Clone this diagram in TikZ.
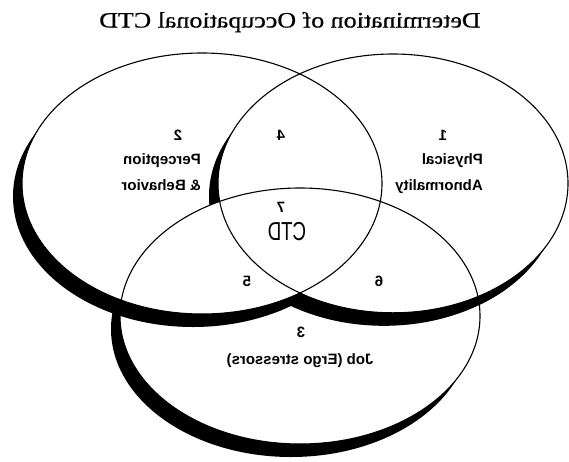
\documentclass[tikz,border=0pt]{standalone}
\usepackage{fontspec}
\setmainfont{Liberation Serif}
\setsansfont{Liberation Sans}
\newfontfamily\headfont[FakeStretch=1.18,FakeBold=0.6]{Liberation Serif}
\newfontfamily\ctdfont[FakeStretch=0.72]{Liberation Sans}
\begin{document}
% Three-way Venn diagram with drop shadows, drawn mirror-imaged (xscale=-1)
\begin{tikzpicture}[x=1pt,y=-1pt,xscale=-1,
  oval/.style n args={3}{insert path={#1 ellipse [x radius=#2, y radius=#3]}},
  perc/.style={oval={(367,183.5)}{180}{130.5}},
  phys/.style={oval={(176,183.4)}{175}{129.4}},
  job/.style={oval={(269,316)}{180}{128}},
  drop/.style={shift={(9,13)}},
  ring/.style={draw=black,line width=1.1pt},
  % frame wound against the ellipses, so a clip with it keeps only the outside
  outside/.style={insert path={(-30,-30) -- (-30,490) -- (600,490) -- (600,-30) -- cycle}},
  txt/.style={transform shape,anchor=base,inner sep=0pt,text=black},
  lbl/.style={txt,font=\sffamily\bfseries\fontsize{15}{18}\selectfont},
  lblw/.style={lbl,anchor=base west}]
\useasboundingbox (0,0) rectangle (569,461);
\fill[white] (0,0) rectangle (569,461);

% shadow of the perception ring, covered by the physical ring
\begin{scope}
  \clip[outside,perc];
  \clip[outside,phys];
  \fill[black,drop,perc];
\end{scope}

% shadow of the physical ring, covered where perception and job overlap
\begin{scope}
  \clip[outside,phys];
  \begin{scope}
    \clip[outside,perc];
    \fill[black,drop,phys];
  \end{scope}
  \begin{scope}
    \clip[outside,job];
    \fill[black,drop,phys];
  \end{scope}
\end{scope}

% shadow of the job ring, covered by the perception ring
\begin{scope}
  \clip[outside,job];
  \clip[outside,perc];
  \fill[black,drop,job];
\end{scope}

% ring outlines
\draw[ring,perc];
\draw[ring,phys];
\draw[ring,job];

% title
\node[txt,font=\headfont\fontsize{22}{26}\selectfont] (title) at (279,27.5)
  {Determination of Occupational CTD};

% region labels
\node[lbl] (n1) at (126,140) {1};
\node[lblw] (phys1) at (86,164) {Physical};
\node[lblw] (phys2) at (86,190) {Abnormality};
\node[lbl] (n2) at (391,140) {2};
\node[lblw] (perc1) at (368,164) {Perception};
\node[lblw] (perc2) at (368,190) {\& Behavior};
\node[lbl] (n3) at (268,337) {3};
\node[lbl] (job1) at (269,364) {Job (Ergo stressors)};
\node[lbl] (n4) at (288,140) {4};
\node[lbl] (n5) at (322,286) {5};
\node[lbl] (n6) at (190,286) {6};
\node[lbl] (n7) at (288,212) {7};
\node[txt,font=\ctdfont\fontsize{26}{30}\selectfont] (ctd) at (282,240) {CTD};
\end{tikzpicture}
\end{document}
